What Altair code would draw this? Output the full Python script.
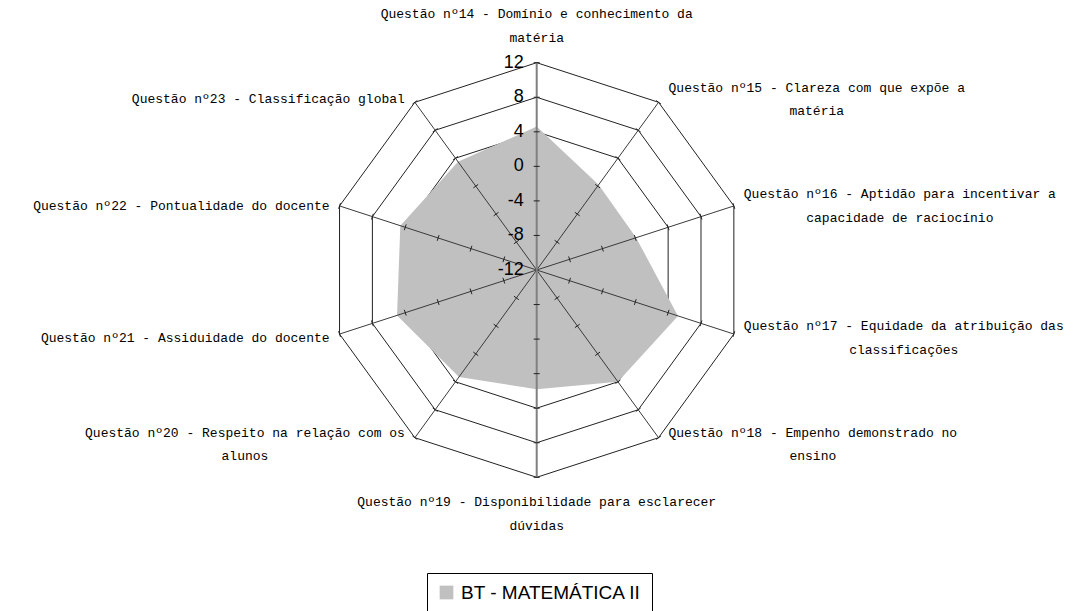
import altair as alt
import pandas as pd

# ---------------- data ----------------
series_name = "BT - MATEMÁTICA II"
category_lines = [
    ["Questão nº14 - Domínio e conhecimento da", "matéria"],
    ["Questão nº15 - Clareza com que expõe a", "matéria"],
    ["Questão nº16 - Aptidão para incentivar a", "capacidade de raciocínio"],
    ["Questão nº17 - Equidade da atribuição das", "classificações"],
    ["Questão nº18 - Empenho demonstrado no", "ensino"],
    ["Questão nº19 - Disponibilidade para esclarecer", "dúvidas"],
    ["Questão nº20 - Respeito na relação com os", "alunos"],
    ["Questão nº21 - Assiduidade do docente"],
    ["Questão nº22 - Pontualidade do docente"],
    ["Questão nº23 - Classificação global"],
]
values = [4.6, 0.2, 0.1, 5.2, 4.0, 1.8, 3.3, 5.0, 4.6, 3.5]
ticks = [-12, -8, -4, 0, 4, 8, 12]

# ---------------- layout / style ----------------
N = len(values)
VMIN, VMAX = ticks[0], ticks[-1]
W, H = 1060, 603          # plot area (px)
CX, CY = 528.7, 262.0     # radar centre inside plot area (px)
K = 207.3                 # px for full radius
FILL = "#c0c0c0"
RING = "#222222"
SPOKE = "#3a3a3a"
VAXIS = "#808080"
LAB_FONT = "Liberation Mono"
LAB_FS = 13.0
CHARW = 0.6 * LAB_FS
LH = 23.5
GAP = 10
GAPV = 13
TICK_HALF = 3.0

xdom = [-CX / K, (W - CX) / K]
ydom = [-(H - CY) / K, CY / K]
xs = alt.Scale(domain=xdom, nice=False, zero=False)
ys = alt.Scale(domain=ydom, nice=False, zero=False)

# ---------------- tables built from arrays ----------------
idx = list(range(N))
poly_df = pd.DataFrame({"idx": idx, "v": values, "series": [series_name] * N})
ring_df = pd.DataFrame([{"idx": i, "v": t} for t in ticks[1:] for i in idx])
spoke_df = pd.DataFrame({"idx": idx})
tick_df = pd.DataFrame([{"idx": i, "v": t} for t in ticks[1:] for i in idx])
axis_df = pd.DataFrame({"idx": [0] * len(ticks), "v": ticks, "label": [str(t) for t in ticks]})
label_df = pd.DataFrame([
    {"idx": i, "line": j, "text": s}
    for i, lines in enumerate(category_lines) for j, s in enumerate(lines)
])

ANG = f"PI/2 - 2*PI*datum.idx/{N}"
RAD = f"(datum.v - ({VMIN}))/({VMAX} - ({VMIN}))"


def polar(ch):
    return (ch.transform_calculate(ang=ANG)
              .transform_calculate(r=RAD)
              .transform_calculate(x="datum.r*cos(datum.ang)")
              .transform_calculate(y="datum.r*sin(datum.ang)"))


X = alt.X("x:Q", scale=xs, axis=None)
Y = alt.Y("y:Q", scale=ys, axis=None)

rings = polar(alt.Chart(ring_df)).mark_line(
    interpolate="linear-closed", color=RING, strokeWidth=1
).encode(x=X, y=Y, detail="v:N", order=alt.Order("idx:Q"))

poly = polar(alt.Chart(poly_df)).mark_line(
    interpolate="linear-closed", strokeWidth=0, fill=FILL, fillOpacity=1
).encode(
    x=X, y=Y, order=alt.Order("idx:Q"),
    fill=alt.Fill(
        "series:N",
        scale=alt.Scale(domain=[series_name], range=[FILL]),
        legend=alt.Legend(
            title=None, orient="none", legendX=419, legendY=565,
            direction="horizontal", symbolType="square", symbolSize=188,
            symbolStrokeWidth=0, labelFont="Liberation Sans", labelFontSize=19,
            labelColor="black", strokeColor="black", fillColor="white",
            padding=10, labelOffset=5, cornerRadius=0, labelLimit=400,
        ),
    ),
)


def spokes(filt, color, width):
    return (alt.Chart(spoke_df)
            .transform_filter(filt)
            .transform_calculate(ang=ANG)
            .transform_calculate(x0="0", y0="0",
                                 x1="cos(datum.ang)", y1="sin(datum.ang)")
            .mark_rule(color=color, strokeWidth=width)
            .encode(x=alt.X("x0:Q", scale=xs, axis=None),
                    y=alt.Y("y0:Q", scale=ys, axis=None),
                    x2="x1:Q", y2="y1:Q"))


sp_other = spokes(f"datum.idx % {N // 2} != 0", SPOKE, 1)
sp_vert = spokes(f"datum.idx % {N // 2} == 0", VAXIS, 2)

h = TICK_HALF / K
tick_marks = (polar(alt.Chart(tick_df))
              .transform_calculate(xa=f"datum.x + {h}*sin(datum.ang)",
                                   ya=f"datum.y - {h}*cos(datum.ang)",
                                   xb=f"datum.x - {h}*sin(datum.ang)",
                                   yb=f"datum.y + {h}*cos(datum.ang)")
              .mark_rule(color="#222222", strokeWidth=1)
              .encode(x=alt.X("xa:Q", scale=xs, axis=None),
                      y=alt.Y("ya:Q", scale=ys, axis=None),
                      x2="xb:Q", y2="yb:Q"))

axis_labels = polar(alt.Chart(axis_df)).mark_text(
    align="right", baseline="middle", dx=-13, font="Liberation Sans",
    fontSize=18, color="black"
).encode(x=X, y=Y, text="label:N")

cat_labels = (alt.Chart(label_df)
              .transform_calculate(ang=ANG)
              .transform_calculate(len="length(datum.text)")
              .transform_joinaggregate(maxlen="max(len)", n="count()", groupby=["idx"])
              .transform_calculate(
                  s="cos(datum.ang) > 0.1 ? 1 : (cos(datum.ang) < -0.1 ? -1 : 0)")
              .transform_calculate(
                  cxp=f"datum.s * ({GAP} + datum.maxlen*{CHARW}/2)",
                  cyp=f"datum.s != 0 ? (2 - 6*sin(datum.ang)) : "
                      f"(-sin(datum.ang)*({GAPV} + datum.n*{LH}/2))")
              .transform_calculate(
                  ypx=f"datum.cyp + (datum.line - (datum.n-1)/2)*{LH}")
              .transform_calculate(
                  xl=f"cos(datum.ang) + datum.cxp/{K}",
                  yl=f"sin(datum.ang) - datum.ypx/{K}")
              .mark_text(align="center", baseline="middle", font=LAB_FONT,
                         fontSize=LAB_FS, color="black")
              .encode(x=alt.X("xl:Q", scale=xs, axis=None),
                      y=alt.Y("yl:Q", scale=ys, axis=None),
                      text="text:N"))

chart = alt.layer(
    rings, poly, sp_other, sp_vert, tick_marks, axis_labels, cat_labels
).properties(
    width=W, height=H, padding=0,
    autosize=alt.AutoSizeParams(type="none"),
).configure_view(stroke="transparent")

chart.save("out.html", embed_options={"renderer": "svg", "actions": False})
